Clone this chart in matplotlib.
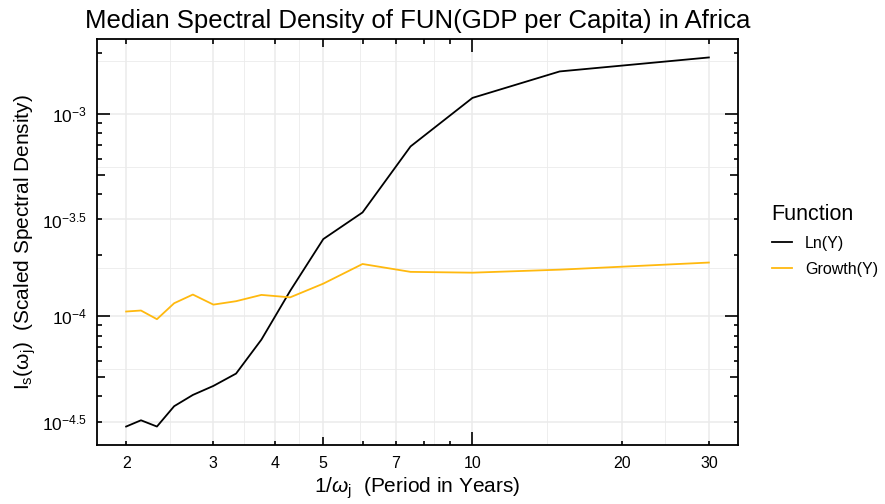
import numpy as np
import matplotlib
matplotlib.use("Agg")
import matplotlib.pyplot as plt
from matplotlib import transforms

plt.rcParams['font.family'] = ['Liberation Sans', 'DejaVu Sans']
plt.rcParams['mathtext.fontset'] = 'custom'
plt.rcParams['mathtext.rm'] = 'Liberation Sans'
plt.rcParams['mathtext.it'] = 'Liberation Sans:italic'

######################################################################

# periods 30/k for k = 15 .. 1
period = [30 / k for k in range(15, 0, -1)]

ln_y = [2.84e-5, 3.05e-5, 2.84e-5, 3.58e-5, 4.07e-5, 4.51e-5, 5.19e-5, 7.64e-5,
        1.33e-4, 2.40e-4, 3.25e-4, 6.89e-4, 1.197e-3, 1.618e-3, 1.897e-3]

growth_y = [1.052e-4, 1.064e-4, 9.64e-5, 1.156e-4, 1.276e-4, 1.138e-4, 1.183e-4, 1.271e-4,
            1.236e-4, 1.445e-4, 1.807e-4, 1.652e-4, 1.637e-4, 1.694e-4, 1.837e-4]

x_breaks = [2, 3, 4, 5, 7, 10, 20, 30]
x_labels = ['2', '3', '4', '5', '7', '10', '20', '30']

y_breaks = [3e-5, 1e-4, 3e-4, 1e-3]
y_labels = [r'$10^{-4.5}$', r'$10^{-4}$', r'$10^{-3.5}$', r'$10^{-3}$']

series = [
    (ln_y, 'black', 'Ln(Y)'),
    (growth_y, '#FFB90F', 'Growth(Y)'),
]

######################################################################

fig = plt.figure(figsize = (8.85, 5.04), dpi = 100)
ax = fig.add_axes([97 / 885, 1 - 445 / 504, 641 / 885, 406 / 504])

for values, color, label in series:
    ax.plot(period, values, color = color, lw = 1.3, label = label)

ax.set_xscale('log')
ax.set_yscale('log')

# ggplot-like 5% expansion in log space
def expand(lo, hi, f = 0.05):
    a, b = np.log10(lo), np.log10(hi)
    r = b - a
    return 10 ** (a - f * r), 10 ** (b + f * r)

ax.set_xlim(*expand(min(period), max(period)))
ax.set_ylim(*expand(min(ln_y + growth_y), max(ln_y + growth_y)))

def log_midpoints(breaks, lo, hi):
    lb = np.log10(breaks)
    step_lo = lb[1] - lb[0]
    step_hi = lb[-1] - lb[-2]
    ext = np.concatenate([[lb[0] - step_lo], lb, [lb[-1] + step_hi]])
    mids = 10 ** ((ext[:-1] + ext[1:]) / 2)
    return [m for m in mids if lo <= m <= hi]

ax.set_xticks(x_breaks, x_labels)
ax.set_yticks(y_breaks, y_labels)
ax.set_xticks(log_midpoints(x_breaks, *ax.get_xlim()), minor = True)
ax.set_yticks(log_midpoints(y_breaks, *ax.get_ylim()), minor = True)
ax.xaxis.set_minor_formatter(plt.NullFormatter())
ax.yaxis.set_minor_formatter(plt.NullFormatter())
ax.tick_params(which = 'both', length = 0, labelsize = 11.5, pad = 8)
ax.tick_params(axis = 'y', labelsize = 12.5, pad = 7)

ax.grid(which = 'major', color = '#EBEBEB', lw = 1.1)
ax.grid(which = 'minor', color = '#EBEBEB', lw = 0.6)
ax.set_axisbelow(True)

for s in ax.spines.values():
    s.set_linewidth(1.3)
    s.set_color('black')

# inward log ticks on all four sides: long at 1, medium at 5, short otherwise
def tick_len(m):
    return 13 if m == 1 else (8 if m == 5 else 4.5)

w_px, h_px = 641, 406
tx = transforms.blended_transform_factory(ax.transData, ax.transAxes)
ty = transforms.blended_transform_factory(ax.transAxes, ax.transData)
xlo, xhi = ax.get_xlim()
ylo, yhi = ax.get_ylim()
for e in range(-6, 3):
    for m in range(1, 10):
        v = m * 10.0 ** e
        L = tick_len(m)
        if xlo <= v <= xhi:
            ax.plot([v, v], [0, L / h_px], transform = tx, color = 'black', lw = 1.2, solid_capstyle = 'butt')
            ax.plot([v, v], [1, 1 - L / h_px], transform = tx, color = 'black', lw = 1.2, solid_capstyle = 'butt')
        if ylo <= v <= yhi:
            ax.plot([0, L / w_px], [v, v], transform = ty, color = 'black', lw = 1.2, solid_capstyle = 'butt')
            ax.plot([1, 1 - L / w_px], [v, v], transform = ty, color = 'black', lw = 1.2, solid_capstyle = 'butt')

ax.set_xlim(xlo, xhi)
ax.set_ylim(ylo, yhi)

ax.set_title('Median Spectral Density of FUN(GDP per Capita) in Africa', fontsize = 18.5, pad = 8)
ax.set_xlabel(r'$1/\omega_{\mathrm{j}}$  (Period in Years)', fontsize = 15, labelpad = 3)
ax.set_ylabel(r'$\mathrm{I_s(\omega_j)}$  (Scaled Spectral Density)', fontsize = 15, labelpad = 3)

ax.legend(title = 'Function', frameon = False, fontsize = 11.5, title_fontsize = 15.5,
          loc = 'upper left', bbox_to_anchor = (1.03, 0.63), handlelength = 1.3,
          handletextpad = 0.8, labelspacing = 0.7, alignment = 'left')

fig.savefig('out.png', dpi = 100)
